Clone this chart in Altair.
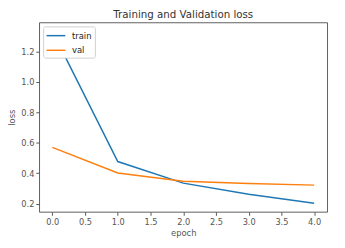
import altair as alt
import pandas as pd

epochs = [0, 1, 2, 3, 4]
train_loss = [1.335, 0.477, 0.335, 0.262, 0.203]
val_loss = [0.570, 0.402, 0.348, 0.333, 0.322]
series = ["train", "val"]
colors = ["#1f77b4", "#ff7f0e"]

rows = []
for e, t, v in zip(epochs, train_loss, val_loss):
    rows.append({"epoch": e, "loss": t, "series": "train"})
    rows.append({"epoch": e, "loss": v, "series": "val"})
df = pd.DataFrame(rows)

font = "DejaVu Sans"

chart = alt.Chart(df).mark_line(strokeWidth=1.5, clip=True).encode(
    x=alt.X("epoch:Q",
            scale=alt.Scale(domain=[-0.2, 4.2], nice=False, zero=False),
            axis=alt.Axis(values=[0, 0.5, 1, 1.5, 2, 2.5, 3, 3.5, 4], format=".1f",
                          title="epoch", grid=False)),
    y=alt.Y("loss:Q",
            scale=alt.Scale(domain=[0.146, 1.392], nice=False, zero=False),
            axis=alt.Axis(values=[0.2, 0.4, 0.6, 0.8, 1.0, 1.2], format=".1f",
                          title="loss", grid=False)),
    color=alt.Color("series:N",
                    scale=alt.Scale(domain=series, range=colors),
                    legend=alt.Legend(title=None, orient="top-left", offset=4,
                                      symbolType="M-1,0H2.2", symbolSize=144,
                                      symbolStrokeWidth=1.5,
                                      labelFont=font, labelFontSize=8.6,
                                      labelColor="#222", labelOffset=13,
                                      fillColor="white", strokeColor="#d0d0d0",
                                      padding=2.5, rowPadding=3,
                                      cornerRadius=2)),
).properties(
    width=295,
    height=194,
    title=alt.TitleParams("Training and Validation loss", font=font, fontSize=10.5,
                          fontWeight="normal", color="#333", offset=2),
    autosize=alt.AutoSizeParams(type="none"),
    padding={"left": 32, "top": 12, "right": 10, "bottom": 26},
).configure_view(
    stroke="#333", strokeWidth=0.8
).configure_axis(
    labelFont=font, labelFontSize=8.4, labelColor="#555",
    titleFont=font, titleFontSize=8.6, titleColor="#555", titleFontWeight="normal",
    tickColor="#555", tickSize=3.5, domain=False, labelPadding=2
).configure_axisY(
    titlePadding=4
).configure_axisX(
    titlePadding=3
)

chart.save("out.html", embed_options={"renderer": "svg", "actions": False})
